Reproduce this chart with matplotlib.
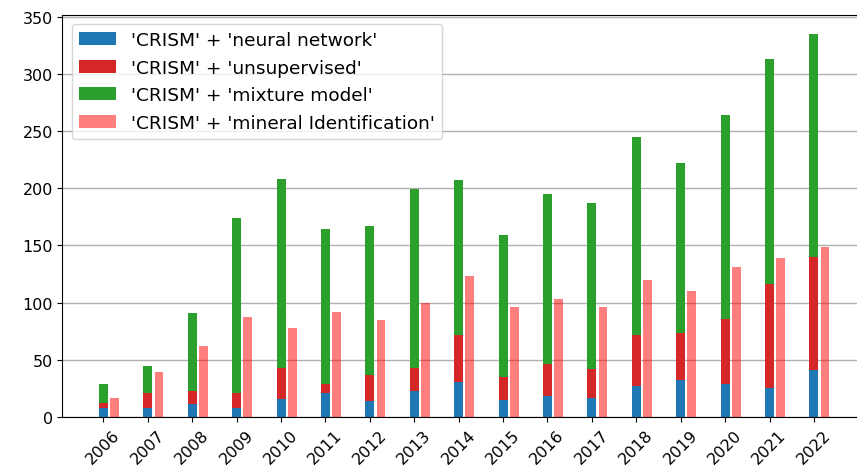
import numpy as np
import matplotlib.pyplot as plt

# Yearly search hit counts for CRISM-related queries
years = np.arange(2006, 2023)
neural_network = [8, 8, 11, 8, 16, 21, 14, 23, 31, 15, 18, 17, 27, 32, 29, 25, 41]
unsupervised = [4, 13, 12, 13, 27, 8, 23, 20, 41, 20, 28, 25, 45, 41, 57, 91, 99]
mixture_model = [17, 24, 68, 153, 165, 135, 130, 156, 135, 124, 149, 145, 173, 149, 178, 197, 195]
mineral_id = [17, 39, 62, 87, 78, 92, 85, 100, 123, 96, 103, 96, 120, 110, 131, 139, 149]

plt.rcParams["font.size"] = 11.5

fig = plt.figure(figsize=(8.57, 4.77), dpi=100)
ax = fig.add_axes([0.0729, 0.1237, 0.9376, 0.8438])

width = 0.2
nn = np.array(neural_network)
us = np.array(unsupervised)
mm = np.array(mixture_model)

ax.bar(years, nn, width, color="tab:blue", label="'CRISM' + 'neural network'")
ax.bar(years, us, width, bottom=nn, color="tab:red", label="'CRISM' + 'unsupervised'")
ax.bar(years, mm, width, bottom=nn + us, color="tab:green", label="'CRISM' + 'mixture model'")
ax.bar(years + 0.25, mineral_id, width, color="red", alpha=0.5,
       label="'CRISM' + 'mineral Identification'")

ax.set_xticks(years)
ax.set_xticklabels([str(y) for y in years], rotation=45)
ax.set_yticks(np.arange(0, 351, 50))
ax.yaxis.grid(True, color="#b0b0b0", linewidth=1)
ax.set_axisbelow(True)
ax.legend(loc="upper left", fontsize=13.3, labelspacing=0.52)

fig.savefig("out.png", dpi=100)
